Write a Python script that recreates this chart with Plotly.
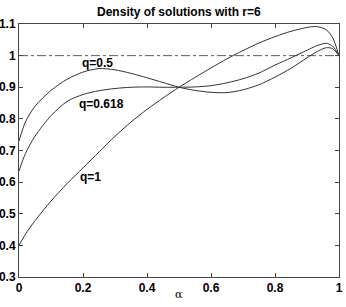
import plotly.graph_objects as go

alpha = [0, 0.02, 0.05, 0.1, 0.15, 0.2, 0.25, 0.3, 0.35, 0.4, 0.45, 0.5, 0.55,
         0.6, 0.65, 0.7, 0.75, 0.8, 0.85, 0.9, 0.93, 0.96, 0.98, 1.0]
q05 = [0.73, 0.79, 0.84, 0.89, 0.925, 0.948, 0.959, 0.955, 0.944, 0.93, 0.915, 0.9,
       0.89, 0.884, 0.883, 0.892, 0.908, 0.932, 0.96, 0.993, 1.012, 1.025, 1.022, 1.0]
q0618 = [0.635, 0.69, 0.745, 0.81, 0.855, 0.877, 0.889, 0.896, 0.9, 0.901, 0.9, 0.9,
         0.901, 0.905, 0.914, 0.927, 0.945, 0.97, 0.993, 1.017, 1.031, 1.039, 1.03, 1.0]
q1 = [0.40, 0.435, 0.478, 0.54, 0.595, 0.645, 0.695, 0.745, 0.79, 0.83, 0.866, 0.9,
      0.931, 0.961, 0.99, 1.016, 1.04, 1.06, 1.077, 1.089, 1.092, 1.082, 1.057, 1.0]

labels = ["q=0.5", "q=0.618", "q=1"]
label_x = [0.244, 0.259, 0.222]
label_y = [0.976, 0.847, 0.616]

x_ticks = [0, 0.2, 0.4, 0.6, 0.8, 1]
x_ticktext = ["0", "0.2", "0.4", "0.6", "0.8", "1"]
y_ticks = [0.3, 0.4, 0.5, 0.6, 0.7, 0.8, 0.9, 1.0, 1.1]
y_ticktext = ["0.3", "0.4", "0.5", "0.6", "0.7", "0.8", "0.9", "1", "1.1"]

fig = go.Figure()
for ys in (q05, q0618, q1):
    fig.add_trace(go.Scatter(x=alpha, y=ys, mode="lines",
                             line=dict(color="#333333", width=1, shape="spline", smoothing=0.8),
                             showlegend=False, hoverinfo="skip"))
fig.add_trace(go.Scatter(x=[0, 1], y=[1, 1], mode="lines",
                         line=dict(color="#333333", width=0.8, dash="dashdot"),
                         showlegend=False, hoverinfo="skip"))

for t, lx, ly in zip(labels, label_x, label_y):
    fig.add_annotation(x=lx, y=ly, text="<b>" + t + "</b>", showarrow=False,
                       font=dict(family="Liberation Sans, Arial", size=12, color="black"))

# x-axis title (placed as an annotation so it can sit closer to the tick labels)
fig.add_annotation(x=0.5, y=0, xref="paper", yref="paper", text="α", showarrow=False,
                   yanchor="middle", yshift=-17,
                   font=dict(family="DejaVu Serif, serif", size=11, color="black"))

axis_common = dict(showgrid=False, zeroline=False, showline=True, linecolor="#444444",
                   linewidth=1, mirror="ticks", ticks="inside", ticklen=4,
                   tickcolor="#444444", automargin=False,
                   tickfont=dict(family="Liberation Sans, Arial", size=12, color="black"))

fig.update_layout(
    width=346, height=307,
    margin=dict(l=19, r=7, t=24, b=30),
    paper_bgcolor="white", plot_bgcolor="white",
    title=dict(text="<b>Density of solutions with r=6</b>", x=0.517, xanchor="center",
               y=0.962, yanchor="middle",
               font=dict(family="Liberation Sans, Arial", size=12, color="black")),
    xaxis=dict(range=[0, 1], tickvals=x_ticks, ticktext=["<b>%s</b>" % s for s in x_ticktext],
               **axis_common),
    yaxis=dict(range=[0.3, 1.1], tickvals=y_ticks, ticktext=["<b>%s</b>" % s for s in y_ticktext],
               **axis_common),
)

fig.write_html("out.html", config={"displayModeBar": False},
               post_script="document.body.style.margin='0px';document.body.style.overflow='hidden';")
